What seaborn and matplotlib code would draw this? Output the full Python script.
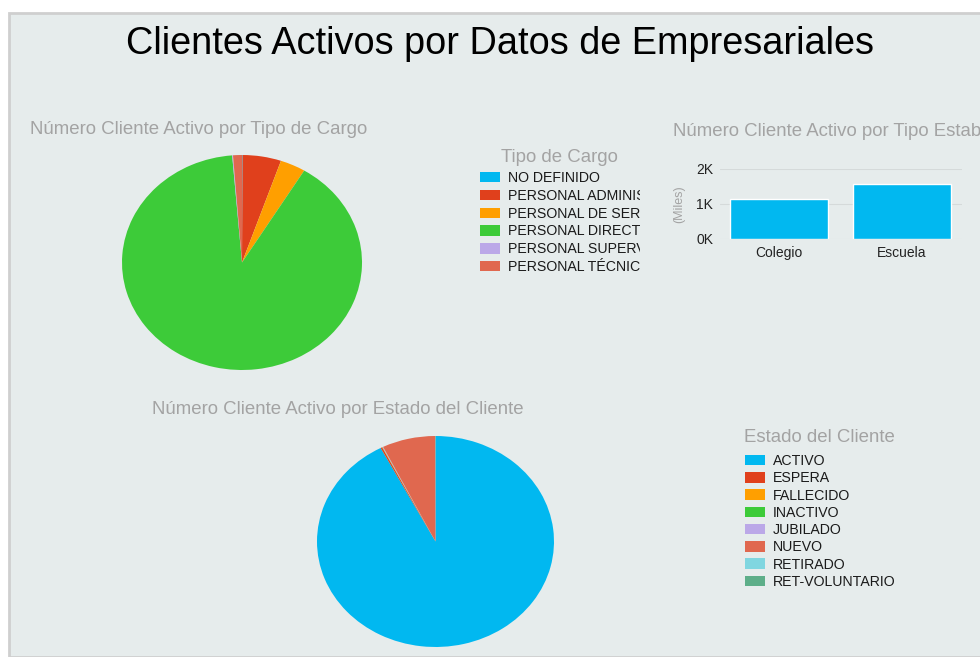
import numpy as np
import matplotlib
matplotlib.use('Agg')
import matplotlib.pyplot as plt
import seaborn as sns
import pandas as pd
from matplotlib.patches import Rectangle
from matplotlib.transforms import Bbox, TransformedBbox

# data (legend names are cut off in the source, so only
# the visible part is kept)
cargo_labels = ['NO DEFINIDO', 'PERSONAL ADMINIS', 'PERSONAL DE SER',
                'PERSONAL DIRECT', 'PERSONAL SUPERV', 'PERSONAL TÉCNIC']
cargo_values = [2, 143, 94, 2480, 3, 33]

estado_labels = ['ACTIVO', 'ESPERA', 'FALLECIDO', 'INACTIVO', 'JUBILADO',
                 'NUEVO', 'RETIRADO', 'RET-VOLUNTARIO']
estado_values = [2545, 6, 1, 1, 2, 200, 0, 1]

tipo_est = ['Colegio', 'Escuela']
tipo_est_values = [1140, 1580]

palette = ['#01B8F0', '#E0401C', '#FF9F00', '#3DCB39', '#BBA8E8',
           '#E0684F', '#80D6E0', '#5DAE89']

bg = '#E6ECEC'
grey_txt = '#A3A3A3'
title_size = 13.4

sns.set_theme(style='white')
plt.rcParams['font.family'] = ['Liberation Sans', 'DejaVu Sans']

W, H = 980, 657
fig = plt.figure(figsize=(W / 100, H / 100), dpi=100)
fig.patch.set_facecolor('white')


def fx(px):
    return px / W


def fy(py):
    return 1 - py / H


# panel background with border
fig.patches.append(Rectangle((fx(9), 0), 1, fy(13), transform=fig.transFigure,
                             facecolor=bg, edgecolor='#CFCFCF', linewidth=2, zorder=-1))

fig.text(fx(500), fy(44), 'Clientes Activos por Datos de Empresariales',
         ha='center', va='center', fontsize=27.3, color='black')


def add_pie(box, values, colors):
    ax = fig.add_axes(box)
    ax.pie(values, colors=colors, startangle=90, counterclock=False,
           wedgeprops=dict(linewidth=0))
    ax.set_aspect('auto')
    ax.set_xlim(-1, 1)
    ax.set_ylim(-1, 1)
    return ax


def add_legend(ax, labels, x_left, y_top, spacing, clip_x=None):
    handles = ax.patches[:len(labels)]
    leg = fig.legend(handles, labels, loc='upper left',
                     bbox_to_anchor=(fx(x_left), fy(y_top)), frameon=False,
                     fontsize=10.2, handlelength=1.4, handleheight=0.75,
                     handletextpad=0.56, labelspacing=spacing, borderaxespad=0,
                     borderpad=0, labelcolor='#1A1A1A')
    if clip_x is not None:
        clip = TransformedBbox(Bbox([[0, 0], [fx(clip_x), 1]]), fig.transFigure)
        for t in leg.get_texts():
            t.set_clip_box(clip)
            t.set_clip_on(True)
    return leg


# pie: tipo de cargo
fig.text(fx(30), fy(130), 'Número Cliente Activo por Tipo de Cargo',
         ha='left', va='center', fontsize=title_size, color=grey_txt)
ax1 = add_pie([fx(122), fy(370), fx(240), 215 / H], cargo_values, palette[:6])
fig.text(fx(559), fy(158), 'Tipo de Cargo', ha='center', va='center',
         fontsize=title_size, color=grey_txt)
add_legend(ax1, cargo_labels, 480, 171, 0.27, clip_x=640)

# pie: estado del cliente
fig.text(fx(152), fy(410), 'Número Cliente Activo por Estado del Cliente',
         ha='left', va='center', fontsize=title_size, color=grey_txt)
ax2 = add_pie([fx(317), fy(647), fx(237), 211 / H], estado_values, palette)
fig.text(fx(744), fy(438), 'Estado del Cliente', ha='left', va='center',
         fontsize=title_size, color=grey_txt)
add_legend(ax2, estado_labels, 745, 454, 0.23)

# bar: tipo establecimiento
fig.text(fx(673), fy(132), 'Número Cliente Activo por Tipo Establecimiento',
         ha='left', va='center', fontsize=title_size, color=grey_txt)
ax3 = fig.add_axes([fx(720), fy(239), fx(242), 70 / H])
df = pd.DataFrame({'tipo': tipo_est, 'valor': tipo_est_values})
sns.barplot(data=df, x='tipo', y='valor', color=palette[0], saturation=1,
            width=0.8, ax=ax3, zorder=3)
ax3.set_facecolor(bg)
ax3.set_xlim(-0.48, 1.49)
ax3.set_ylim(0, 2000)
ax3.set_yticks([0, 1000, 2000])
ax3.set_yticklabels(['0K', '1K', '2K'])
ax3.grid(axis='y', color='#D5DADA', linewidth=0.8, zorder=0)
for s in ax3.spines.values():
    s.set_visible(False)
ax3.tick_params(axis='both', length=0, labelsize=10, colors='#222222', pad=5)
ax3.set_xlabel('')
ax3.set_ylabel('(Miles)', fontsize=9, color=grey_txt, labelpad=8)

fig.savefig('out.png', dpi=100, facecolor='white')
